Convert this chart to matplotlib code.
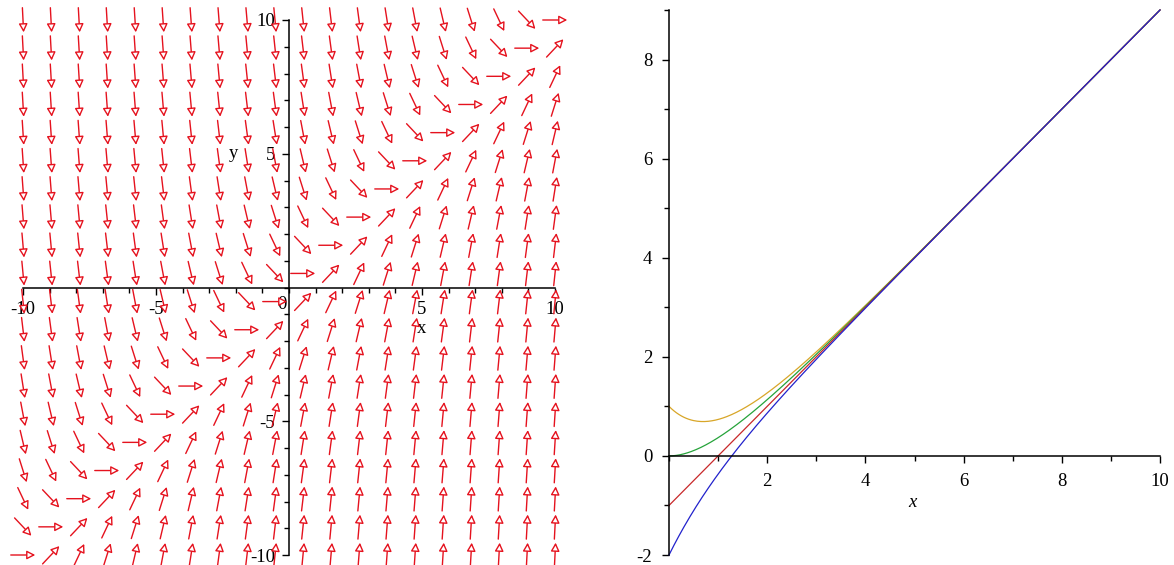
import numpy as np
import matplotlib
matplotlib.use("Agg")
import matplotlib.pyplot as plt
from matplotlib.patches import FancyArrowPatch
from matplotlib.ticker import MultipleLocator

plt.rcParams['font.family'] = ['Liberation Serif', 'DejaVu Serif']
plt.rcParams['axes.unicode_minus'] = False

# ---- data ----
# direction field of dy/dx = x - y on a 20 x 20 grid over [-10, 10]^2
field_x = np.linspace(-10, 10, 20)
field_y = np.linspace(-10, 10, 20)
field_xticks = [-10, -5, 5, 10]
field_yticks = [-10, -5, 5, 10]

# solution curves y = x - 1 + C*exp(-x), initial values y(0)
curve_y0 = [1, 0, -1, -2]
curve_colors = ['#d8a628', '#26a33a', '#c8282a', '#2222cc']
curve_x = np.linspace(0, 10, 400)
sol_xticks = [2, 4, 6, 8, 10]
sol_yticks = [-2, 0, 2, 4, 6, 8]

W, H = 1174, 565
fig = plt.figure(figsize=(W / 100, H / 100), dpi=100)

# ---------------- left: direction field ----------------
axL = fig.add_axes([23 / W, 10 / H, 532 / W, 535 / H])
axL.set_xlim(-10, 10)
axL.set_ylim(-10, 10)
for s in ['top', 'right']:
    axL.spines[s].set_visible(False)
axL.spines['left'].set_position(('data', 0))
axL.spines['bottom'].set_position(('data', 0))
for s in ['left', 'bottom']:
    axL.spines[s].set_linewidth(1.1)
axL.set_xticks(field_xticks)
axL.set_yticks(field_yticks)
axL.set_xticklabels([str(v) for v in field_xticks])
axL.set_yticklabels([str(v) for v in field_yticks])
axL.xaxis.set_minor_locator(MultipleLocator(1))
axL.yaxis.set_minor_locator(MultipleLocator(1))
axL.tick_params(which='major', direction='out', length=5, width=1, labelsize=13.5, pad=5)
axL.tick_params(which='minor', direction='out', length=3.5, width=1)
axL.text(-0.1, -0.62, '0', ha='right', va='center', fontsize=13.5)
axL.text(-2.1, 5.0, 'y', ha='center', va='center', fontsize=13.5)
axL.text(5.0, -1.55, 'x', ha='center', va='center', fontsize=13.5)

half = 0.46
red = '#e5121e'
for xv in field_x:
    for yv in field_y:
        dx, dy = 1.0, xv - yv
        n = np.hypot(dx, dy)
        ux, uy = dx / n * half, dy / n * half
        arr = FancyArrowPatch((xv - ux, yv - uy), (xv + ux, yv + uy),
                              arrowstyle='-|>,head_length=5,head_width=2.6',
                              mutation_scale=1, shrinkA=0, shrinkB=0,
                              lw=1.0, ec=red, fc='white', clip_on=False,
                              zorder=3)
        axL.add_patch(arr)

# ---------------- right: solution curves ----------------
axR = fig.add_axes([669 / W, 10 / H, 491 / W, 545 / H])
axR.set_xlim(0, 10)
axR.set_ylim(-2, 9)
for s in ['top', 'right']:
    axR.spines[s].set_visible(False)
axR.spines['bottom'].set_position(('data', 0))
for s in ['left', 'bottom']:
    axR.spines[s].set_linewidth(1.1)
axR.set_xticks(sol_xticks)
axR.set_yticks(sol_yticks)
axR.xaxis.set_minor_locator(MultipleLocator(1))
axR.yaxis.set_minor_locator(MultipleLocator(1))
axR.tick_params(which='major', direction='out', length=5, width=1, labelsize=13.5, pad=7)
axR.tick_params(which='minor', direction='out', length=3.5, width=1)
axR.text(4.95, -0.95, 'x', style='italic', ha='center', va='center', fontsize=13.5)

for y0, col in zip(curve_y0, curve_colors):
    C = y0 + 1
    axR.plot(curve_x, curve_x - 1 + C * np.exp(-curve_x), color=col, lw=0.9, clip_on=False)

fig.savefig('out.png', dpi=100)
